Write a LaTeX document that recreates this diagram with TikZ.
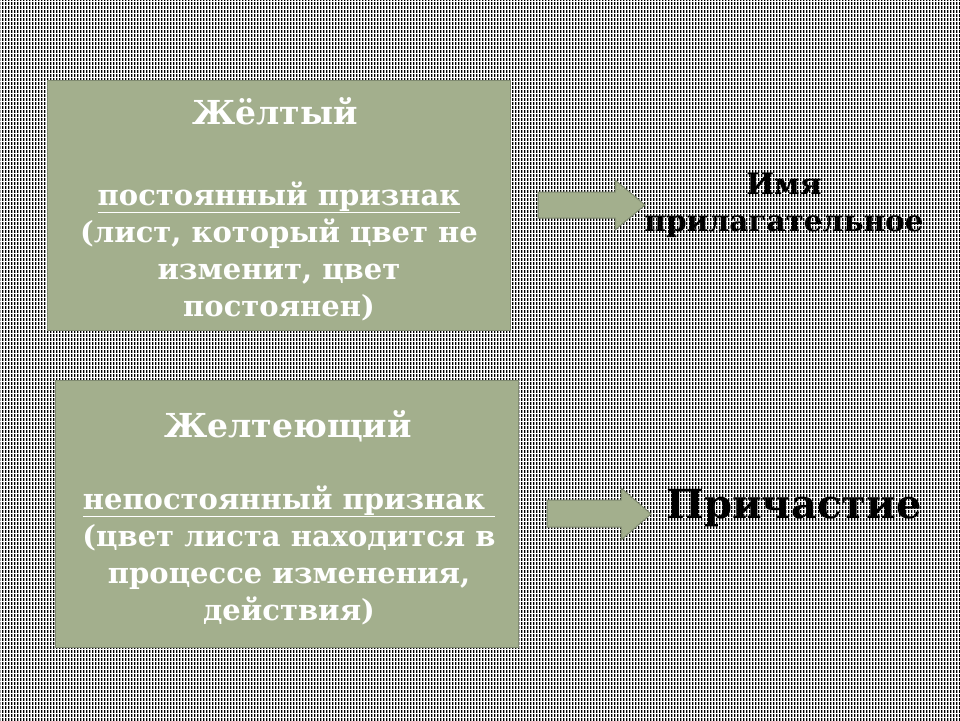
\documentclass[tikz,border=0pt]{standalone}
\usepackage{fontspec}
\setmainfont{DejaVu Serif}
\usetikzlibrary{patterns.meta}
\definecolor{sage}{HTML}{A3AF8D}
\definecolor{sageedge}{HTML}{7F8A70}
\tikzdeclarepattern{
  name=vstripes, type=uncolored,
  bounding box={(0,0) and (3pt,4pt)},
  tile size={(3pt,4pt)},
  code={\fill (0,0) rectangle (1.8pt,3.6pt);}
}
\tikzset{
  panel/.style={draw=sageedge, line width=1.2pt, fill=sage, inner sep=0pt},
  paneltext/.style={text=white, font=\bfseries\fontsize{29}{37}\selectfont, align=center},
  titletext/.style={text=white, font=\bfseries\fontsize{33}{37}\selectfont},
  blockarrow/.style={draw=sageedge, line width=1pt, fill=sage, line join=miter},
  label/.style={text=black, font=\bfseries\fontsize{29.5}{37}\selectfont, align=center}
}
\begin{document}
\begin{tikzpicture}[x=1pt,y=-1pt]
\useasboundingbox (0,0) rectangle (960,720);
\fill[white] (0,0) rectangle (960,720);
\fill[pattern={vstripes}, pattern color=black] (0,0) rectangle (960,720);
% panels
\node[panel, minimum width=463pt, minimum height=250pt, anchor=north west] (p1) at (47,80) {};
\node[panel, minimum width=463pt, minimum height=267pt, anchor=north west] (p2) at (55,380) {};
% panel texts
\node[titletext] (t1) at (275,111) {Жёлтый};
\node[paneltext] (t1b) at (279,251) {\underline{постоянный признак}\\(лист, который цвет не\\изменит, цвет\\постоянен)};
\node[titletext] (t2) at (288,426) {Желтеющий};
\node[paneltext] (t2b) at (289,555) {\underline{непостоянный признак }\\(цвет листа находится в\\процессе изменения,\\действия)};
% arrows
\draw[blockarrow] (538,192) -- (615,192) -- (615,180) -- (645,205) -- (615,230) -- (615,218) -- (538,218) -- cycle;
\draw[blockarrow] (547,500) -- (621,500) -- (621,488) -- (651,514) -- (621,540) -- (621,527) -- (547,527) -- cycle;
% right labels
\node[label] (l1) at (784,205) {Имя\\прилагательное};
\node[label, font=\bfseries\fontsize{40}{48}\selectfont] (l2) at (794,508) {Причастие};
\end{tikzpicture}
\end{document}
